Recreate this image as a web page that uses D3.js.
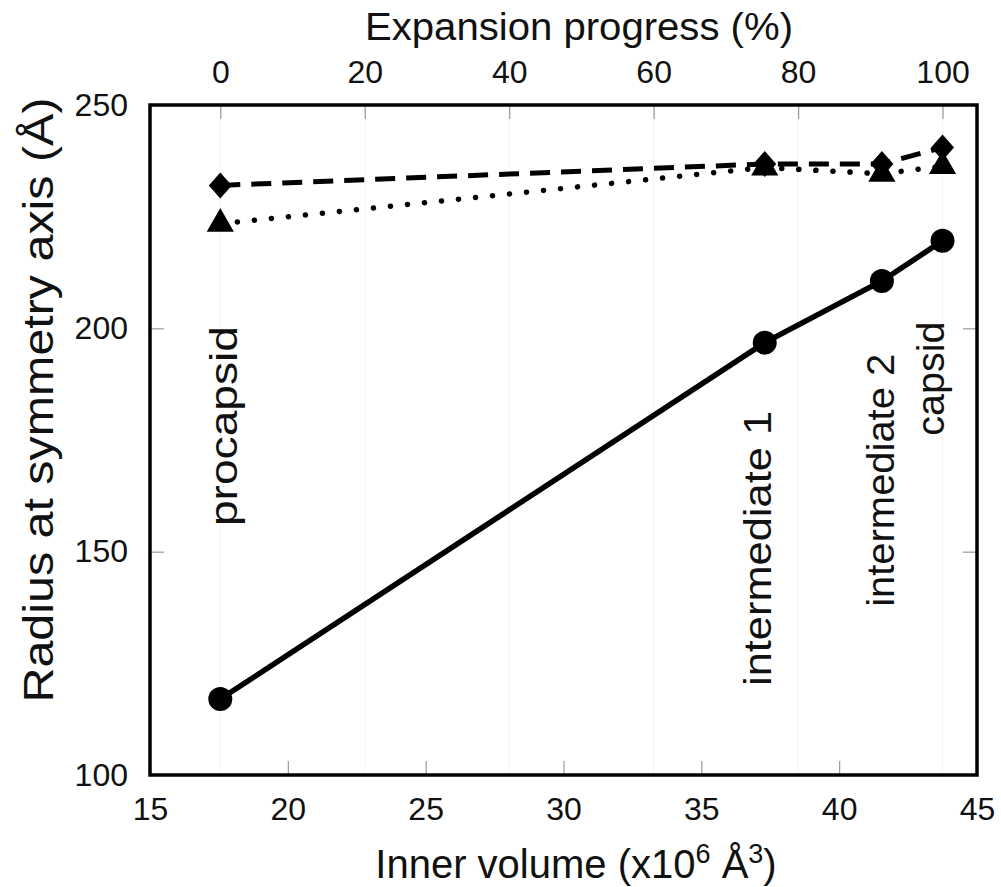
<!DOCTYPE html>
<html>
<head>
<meta charset="utf-8">
<script src="https://cdn.jsdelivr.net/npm/d3@7"></script>
<style>
  body { margin: 0; background: #fff; }
  text { font-family: "Liberation Sans", Arial, sans-serif; fill: #111; }
</style>
</head>
<body>
<div id="chart"></div>
<script>
// stages along the expansion pathway
var stages = ["procapsid", "intermediate 1", "intermediate 2", "capsid"];
var innerVolume = [17.55, 37.3, 41.55, 43.75];          // x10^6 Å^3
var radiusCircle = [117, 196.8, 210.6, 219.6];
var radiusDiamond = [232, 236.8, 236.8, 240.5];
var radiusTriangle = [223.4, 236, 234.6, 236.3];
// where the rotated stage labels end (top), in data units
var labelTop = [200.5, 181.5, 194.3, 201.5];

var bottomTicks = [15, 20, 25, 30, 35, 40, 45];
var topTicks = [0, 20, 40, 60, 80, 100];
var leftTicks = [100, 150, 200, 250];

var margin = {top: 105, right: 24, bottom: 112, left: 150},
    width = 1001 - margin.left - margin.right,
    height = 887 - margin.top - margin.bottom;

var svg = d3.select("#chart").append("svg")
    .attr("width", 1001)
    .attr("height", 887)
  .append("g")
    .attr("transform", "translate(" + margin.left + "," + margin.top + ")");

var x = d3.scaleLinear().domain([15, 45]).range([0, width]);
var y = d3.scaleLinear().domain([100, 250]).range([height, 0]);
// expansion progress maps procapsid -> 0 %, capsid -> 100 %
var xTop = d3.scaleLinear().domain([0, 100])
    .range([x(innerVolume[0]), x(innerVolume[3])]);

// faint grid along the top ticks
svg.selectAll("line.grid")
    .data(topTicks)
  .enter().append("line")
    .attr("class", "grid")
    .attr("x1", function(d) { return xTop(d); })
    .attr("x2", function(d) { return xTop(d); })
    .attr("y1", 0).attr("y2", height)
    .style("stroke", "#f3f3f3")
    .style("stroke-width", 1);

// axes with inward ticks
function styleAxis(g) {
  g.select(".domain").remove();
  g.selectAll(".tick line").style("stroke", "#999").style("stroke-width", 1.2);
  g.selectAll(".tick text")
    .style("font-size", "32px")
    .style("font-family", '"Liberation Sans", Arial, sans-serif')
    .style("fill", "#111");
}

svg.append("g")
    .attr("transform", "translate(0," + height + ")")
    .call(d3.axisBottom(x).tickValues(bottomTicks).tickSizeInner(-14).tickSizeOuter(0).tickPadding(22))
    .call(styleAxis)
    .call(function(g) {
      g.selectAll(".tick").filter(function(d) { return d === 15 || d === 45; })
        .select("line").remove();
    });

svg.append("g")
    .call(d3.axisTop(xTop).tickValues(topTicks).tickSizeInner(-14).tickSizeOuter(0).tickPadding(22))
    .call(styleAxis);

svg.append("g")
    .call(d3.axisLeft(y).tickValues(leftTicks).tickSizeInner(-14).tickSizeOuter(0).tickPadding(22))
    .call(styleAxis)
    .call(function(g) {
      g.selectAll(".tick").filter(function(d) { return d === 100 || d === 250; })
        .select("line").remove();
    });

svg.append("g")
    .attr("transform", "translate(" + width + ",0)")
    .call(d3.axisRight(y).tickValues([150, 200]).tickSizeInner(-14).tickSizeOuter(0).tickFormat(""))
    .call(styleAxis);

// frame
svg.append("rect")
    .attr("width", width)
    .attr("height", height)
    .style("fill", "none")
    .style("stroke", "#000")
    .style("stroke-width", 3.5);

// axis titles
svg.append("text")
    .attr("x", 579 - margin.left)
    .attr("y", -65)
    .attr("text-anchor", "middle")
    .attr("textLength", 428)
    .attr("lengthAdjust", "spacingAndGlyphs")
    .style("font-size", "38px")
    .text("Expansion progress (%)");

var xt = svg.append("text")
    .attr("x", 576 - margin.left)
    .attr("y", height + 103)
    .attr("text-anchor", "middle")
    .style("font-size", "40px");
xt.append("tspan").text("Inner volume (x10");
xt.append("tspan").attr("dy", -15).style("font-size", "27px").text("6");
xt.append("tspan").attr("dy", 15).text(" Å");
xt.append("tspan").attr("dy", -15).style("font-size", "27px").text("3");
xt.append("tspan").attr("dy", 15).text(")");

svg.append("text")
    .attr("transform", "translate(" + (-97) + "," + (400 - margin.top) + ") rotate(-90)")
    .attr("text-anchor", "middle")
    .attr("textLength", 605)
    .attr("lengthAdjust", "spacingAndGlyphs")
    .style("font-size", "43px")
    .text("Radius at symmetry axis (Å)");

// lines
var lineGen = function(vals) {
  return d3.line()
    .x(function(d, i) { return x(innerVolume[i]); })
    .y(function(d) { return y(d); })(vals);
};

svg.append("path")
    .attr("d", lineGen(radiusTriangle))
    .style("fill", "none").style("stroke", "#000")
    .style("stroke-width", 5.5)
    .style("stroke-linecap", "round")
    .style("stroke-dasharray", "0.1,17");

svg.append("path")
    .attr("d", lineGen(radiusDiamond))
    .style("fill", "none").style("stroke", "#000")
    .style("stroke-width", 5)
    .style("stroke-dasharray", "20,11");

svg.append("path")
    .attr("d", lineGen(radiusCircle))
    .style("fill", "none").style("stroke", "#000")
    .style("stroke-width", 5.5);

// markers
var tri = d3.symbol().type(d3.symbolTriangle).size(320);
svg.selectAll("path.tri")
    .data(radiusTriangle)
  .enter().append("path")
    .attr("class", "tri")
    .attr("d", tri)
    .attr("transform", function(d, i) { return "translate(" + x(innerVolume[i]) + "," + y(d) + ")"; })
    .style("fill", "#000");

svg.selectAll("path.dia")
    .data(radiusDiamond)
  .enter().append("path")
    .attr("class", "dia")
    .attr("d", "M0,-13L11.5,0L0,13L-11.5,0Z")
    .attr("transform", function(d, i) { return "translate(" + x(innerVolume[i]) + "," + y(d) + ")"; })
    .style("fill", "#000");

svg.selectAll("circle.pt")
    .data(radiusCircle)
  .enter().append("circle")
    .attr("class", "pt")
    .attr("cx", function(d, i) { return x(innerVolume[i]); })
    .attr("cy", function(d) { return y(d); })
    .attr("r", 12)
    .style("fill", "#000");

// stage labels
var labelShift = [17, 6, 12, 1];
var labelLength = [200, 275, 253, 114];
svg.selectAll("text.stage")
    .data(stages)
  .enter().append("text")
    .attr("class", "stage")
    .attr("text-anchor", "end")
    .attr("textLength", function(d, i) { return labelLength[i]; })
    .attr("lengthAdjust", "spacingAndGlyphs")
    .attr("transform", function(d, i) {
      return "translate(" + (x(innerVolume[i]) + labelShift[i]) + "," + y(labelTop[i]) + ") rotate(-90)";
    })
    .style("font-size", "39px")
    .text(function(d) { return d; });
</script>
</body>
</html>
